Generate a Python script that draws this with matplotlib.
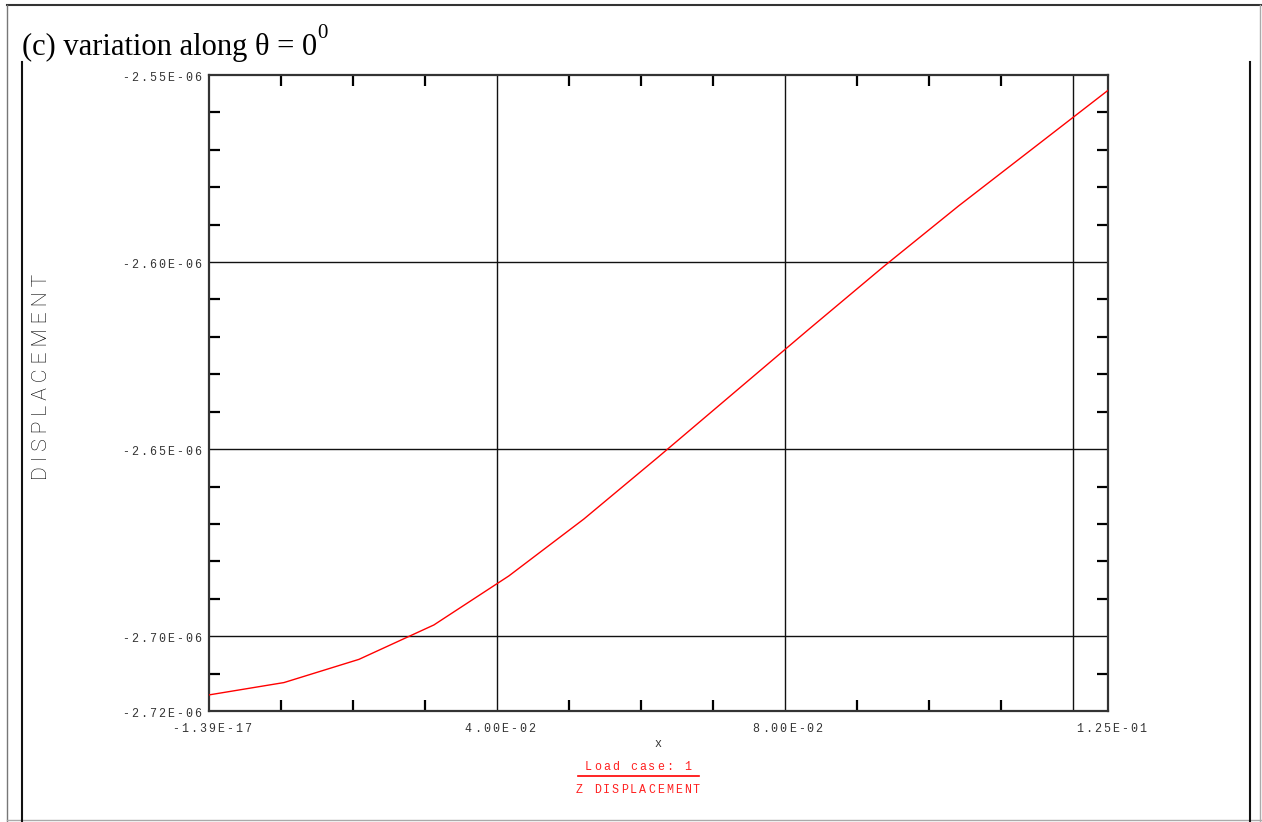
import numpy as np
import matplotlib
matplotlib.use("Agg")
import matplotlib.pyplot as plt
from matplotlib.lines import Line2D

# ---- data -------------------------------------------------------------
x_nodes = np.linspace(0.0, 0.125, 13)
z_disp = np.array([-2.7157, -2.7124, -2.7062, -2.6970, -2.6839, -2.6687,
                   -2.6520, -2.6350, -2.6180, -2.6012, -2.5850, -2.5695,
                   -2.5540]) * 1e-6

x_label_vals = [0.0, 0.04, 0.08, 0.125]
x_label_text = ["-1.39E-17", "4.00E-02", "8.00E-02", "1.25E-01"]
y_label_vals = [-2.55e-6, -2.60e-6, -2.65e-6, -2.70e-6, -2.72e-6]
y_label_text = ["-2.55E-06", "-2.60E-06", "-2.65E-06", "-2.70E-06", "-2.72E-06"]

x_grid = [0.04, 0.08, 0.12]
x_minor = [0.01, 0.02, 0.03, 0.05, 0.06, 0.07, 0.09, 0.10, 0.11]
y_grid = [-2.60e-6, -2.65e-6, -2.70e-6]
y_minor = [v * 1e-6 for v in (-2.56, -2.57, -2.58, -2.59, -2.61, -2.62, -2.63,
                              -2.64, -2.66, -2.67, -2.68, -2.69, -2.71)]

title_text = "(c) variation along \u03b8 = 0"
title_sup = "0"
ylabel_text = "DISPLACEMENT"
xlabel_text = "x"
legend_title = "Load case: 1"
legend_entry = "Z DISPLACEMENT"

# ---- figure -----------------------------------------------------------
W, H = 1262, 822
DPI = 100
fig = plt.figure(figsize=(W / DPI, H / DPI), dpi=DPI)
fig.patch.set_facecolor("white")


def fx(px):
    return px / W


def fy(py):
    return 1.0 - py / H


ax_l, ax_r, ax_t, ax_b = 209, 1108.5, 75, 711
ax = fig.add_axes([fx(ax_l), fy(ax_b), fx(ax_r - ax_l), (ax_b - ax_t) / H])
ax.set_xlim(x_label_vals[0], x_label_vals[-1])
ax.set_ylim(y_label_vals[-1], y_label_vals[0])

ax.plot(x_nodes, z_disp, color="#ff0000", lw=1.0, zorder=3)

for s in ax.spines.values():
    s.set_color("#333333")
    s.set_linewidth(1.6)

ax.set_xticks(x_grid)
ax.set_yticks(y_grid)
ax.set_xticks(x_minor, minor=True)
ax.set_yticks(y_minor, minor=True)
ax.tick_params(which="major", length=0, labelbottom=False, labelleft=False)
ax.tick_params(which="minor", direction="in", length=8, width=1.6,
               color="black", top=True, right=True, bottom=True, left=True)
ax.grid(which="major", color="#111111", lw=1.0)

MONO = "Liberation Mono"
PITCH = 9.0


def spaced(s, xy, coords, anchor, dx, dy, color="#333333", size=8.4):
    """Place a string one character at a time with a fixed pitch (pixels)."""
    n = len(s)
    span = PITCH * (n - 1)
    start = {"center": -span / 2, "right": -span, "left": 0.0}[anchor]
    for i, ch in enumerate(s):
        if ch == " ":
            continue
        ax.annotate(ch, xy=xy, xycoords=coords,
                    xytext=(dx + start + i * PITCH, dy),
                    textcoords="offset pixels", ha="center", va="center",
                    family=MONO, fontsize=size, color=color,
                    annotation_clip=False)


for v, t in zip(x_label_vals, x_label_text):
    spaced(t, (v, 0), ax.get_xaxis_transform(), "center", 3, -18)

for v, t in zip(y_label_vals, y_label_text):
    spaced(t, (0, v), ax.get_yaxis_transform(), "right", -11, -3)

spaced(xlabel_text, (0.5, 0), "axes fraction", "center", -1, -33)

# legend block under the axis
leg_cx = 638
leg_dx = leg_cx - (ax_l + ax_r) / 2
spaced(legend_title, (0.5, 0), "axes fraction", "center", leg_dx, -(767 - ax_b),
       color="#ff2020")
spaced(legend_entry, (0.5, 0), "axes fraction", "center", leg_dx, -(790 - ax_b),
       color="#ff2020")
fig.add_artist(Line2D([fx(578), fx(699)], [fy(776), fy(776)],
                      color="#ff0000", lw=1.2))

# vertical axis title
fig.text(fx(41.5), fy(377), " ".join(ylabel_text), rotation=90,
         ha="center", va="center", family="Roboto", fontweight="light",
         fontsize=15.2, color="black")

# panel title
fig.text(fx(22), fy(55), title_text, ha="left", va="baseline",
         family="Liberation Serif", fontsize=22, color="black")
fig.text(fx(317), fy(38), title_sup, ha="left", va="baseline",
         family="Liberation Serif", fontsize=15, color="black")

# page frame
frame = [
    ([7, 1262], [5, 5], "#333333", 1.5),
    ([7, 7], [5, 822], "#777777", 1.0),
    ([1260, 1260], [5, 822], "#aaaaaa", 1.0),
    ([7, 1262], [820, 820], "#aaaaaa", 1.0),
    ([22, 22], [62, 822], "#111111", 1.5),
    ([1250, 1250], [62, 822], "#111111", 1.5),
]
for xs, ys, c, lw in frame:
    fig.add_artist(Line2D([fx(v) for v in xs], [fy(v) for v in ys],
                          color=c, lw=lw))

fig.savefig("out.png", dpi=DPI, facecolor="white")
